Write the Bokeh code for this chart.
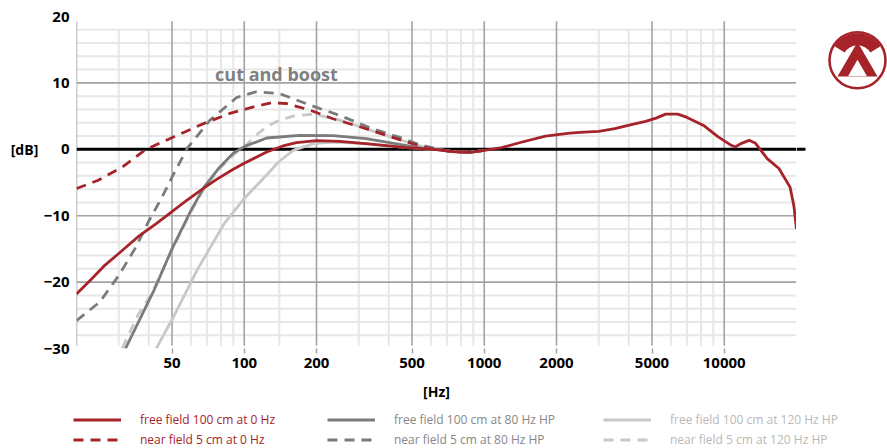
import math
from bokeh.plotting import figure
from bokeh.layouts import row, column
from bokeh.models import Range1d, FixedTicker, Label, Legend, LegendItem
from bokeh.embed import file_html
from bokeh.resources import INLINE

# ---------------- data ----------------
x_ticks = [50, 100, 200, 500, 1000, 2000, 5000, 10000]
x_minor = [30, 40, 60, 70, 80, 90, 140, 300, 400, 600, 700, 800, 900,
           3000, 4000, 6000, 7000, 8000, 9000]
y_ticks = [-30, -20, -10, 0, 10, 20]
y_major = [-20, -10, 10]
y_minor = [-28, -26, -24, -22, -18, -16, -14, -12, -8, -6, -4, -2,
           2, 4, 6, 8, 12, 14, 16, 18]

# common response above ~500 Hz (free field 100 cm, 0 Hz)
common_f = [500, 570, 650, 740, 870, 1000, 1180, 1440, 1800, 2270, 2600, 3000,
            3500, 4100, 4700, 5200, 5700, 6400, 7000, 8200, 9400, 10700, 11100,
            11800, 12700, 13500, 15100, 16900, 18800, 19500, 20000]
common_db = [0.2, 0.05, -0.1, -0.35, -0.45, -0.15, 0.25, 1.1, 2.0, 2.45, 2.6, 2.7,
             3.1, 3.7, 4.2, 4.7, 5.3, 5.3, 4.8, 3.6, 1.9, 0.6, 0.35,
             0.9, 1.35, 0.9, -1.4, -2.9, -5.7, -8.5, -12.0]

# free field 100 cm at 0 Hz (low part)
ff0_f = [20, 23, 26, 30, 36, 43, 50, 58, 68, 77, 90, 100, 124, 145, 165, 200, 250,
         320, 400, 470]
ff0_db = [-21.8, -19.6, -17.6, -15.7, -13.2, -11.2, -9.4, -7.6, -5.8, -4.5, -3.0,
          -2.1, -0.4, 0.5, 1.0, 1.3, 1.2, 0.85, 0.5, 0.25]

# near field 5 cm at 0 Hz
nf0_f = [20, 24.5, 31, 39, 51, 68, 87, 112, 130, 150, 188, 234, 303, 391, 491, 570, 650]
nf0_db = [-5.9, -4.7, -2.7, 0.0, 1.9, 3.9, 5.4, 6.5, 7.0, 6.9, 5.9, 4.6, 3.4, 2.1,
          0.95, 0.25, -0.1]

# free field 100 cm at 80 Hz HP
ff80_f = [32, 42, 50, 60, 68, 79, 90, 100, 124, 170, 234, 322, 444, 570]
ff80_db = [-30.0, -21.3, -15.0, -9.2, -5.7, -2.7, -0.6, 0.4, 1.7, 2.1, 2.05, 1.6,
           0.75, 0.05]

# near field 5 cm at 80 Hz HP
nf80_f = [20, 25, 30, 35, 40, 45, 50, 58, 72, 93, 112, 140, 190, 250, 341, 444, 536, 650]
nf80_db = [-25.8, -23.0, -19.0, -15.0, -10.8, -7.5, -4.2, 0.2, 4.4, 7.8, 8.65, 8.4,
           6.6, 5.1, 3.1, 1.8, 0.7, 0.0]

# free field 100 cm at 120 Hz HP
ff120_f = [43, 50.6, 63.6, 82.5, 100, 120, 140, 160, 194, 234, 320]
ff120_db = [-30.0, -25.3, -18.2, -11.2, -7.4, -4.4, -1.8, -0.15, 0.85, 1.1, 0.86]

# near field 5 cm at 120 Hz HP
nf120_f = [31, 36, 41, 50, 60, 68, 79, 88, 93, 100, 110, 124, 140, 160, 194, 226, 260]
nf120_db = [-30.0, -25.0, -21.8, -15.2, -9.4, -5.9, -2.9, -1.2, -0.4, 0.3, 1.9, 3.4,
            4.4, 5.0, 5.3, 4.8, 4.2]

labels = ["free field 100 cm at 0 Hz", "near field 5 cm at 0 Hz",
          "free field 100 cm at 80 Hz HP", "near field 5 cm at 80 Hz HP",
          "free field 100 cm at 120 Hz HP", "near field 5 cm at 120 Hz HP"]

F_MIN, F_MAX = 20, 20000
DB_MIN, DB_MAX = -30, 20


def join(lf, ld, tf, td, fmax=None):
    xs, ys = list(lf), list(ld)
    for f, d in zip(tf, td):
        if f > lf[-1] and (fmax is None or f <= fmax):
            xs.append(f)
            ys.append(d)
    return xs, ys


ff0_full = join(ff0_f, ff0_db, common_f, common_db)
nf0_full = join(nf0_f, nf0_db, common_f, common_db, 1000)
ff80_full = join(ff80_f, ff80_db, common_f, common_db, 1000)
nf80_full = join(nf80_f, nf80_db, common_f, common_db, 1000)
ff120_full = join(ff120_f, ff120_db, ff0_full[0], ff0_full[1], 1000)
nf120_full = join(nf120_f, nf120_db, nf0_full[0], nf0_full[1], 1000)

# ---------------- style ----------------
RED = "#a6232a"
DARK = "#7b7b7b"
LIGHT = "#c8c8c8"
RED_T = "#a6232a"
DARK_T = "#878787"
LIGHT_T = "#b9b9b9"
GRID_MAJ = "#a3a3a3"
GRID_MIN = "#e7e7e7"
FONT = "Open Sans"
DASH = "10 7"
LW = 2.8

TOP_B, BOT_B = 16, 56
ROW_H = 404
LEFT_W, MAIN_W, RIGHT_W = 40, 756, 91
LEG_H = 44

y_rng = Range1d(DB_MIN, DB_MAX)


def bare(fig):
    fig.outline_line_color = None
    fig.grid.visible = False
    fig.background_fill_color = "white"
    fig.border_fill_color = "white"
    return fig


# ---------------- main plot ----------------
p = figure(width=MAIN_W, height=ROW_H, x_axis_type="log",
           x_range=Range1d(F_MIN, F_MAX), y_range=y_rng,
           output_backend="svg", toolbar_location=None,
           min_border_left=32, min_border_right=0,
           min_border_top=TOP_B, min_border_bottom=BOT_B)
bare(p)

# grid lines
p.segment(x0=F_MIN, x1=F_MAX, y0=y_minor, y1=y_minor, line_color=GRID_MIN, line_width=2)
p.segment(x0=x_minor, x1=x_minor, y0=DB_MIN + 0.4, y1=18, line_color=GRID_MIN, line_width=2)
p.segment(x0=F_MIN, x1=F_MAX, y0=y_major, y1=y_major, line_color=GRID_MAJ, line_width=1.6)
p.segment(x0=[F_MIN] + x_ticks, x1=[F_MIN] + x_ticks, y0=DB_MIN + 0.4, y1=19.3,
          line_color=GRID_MAJ, line_width=1.6)
p.segment(x0=F_MIN, x1=F_MAX, y0=0, y1=0, line_color="black", line_width=3)

# curves (drawn back to front)
series = [
    ("ff120", ff120_full, LIGHT, None),
    ("nf120", nf120_full, LIGHT, DASH),
    ("nf80", nf80_full, DARK, DASH),
    ("nf0", nf0_full, RED, DASH),
    ("ff80", ff80_full, DARK, None),
    ("ff0", ff0_full, RED, None),
]


def line_kw(col, dash):
    kw = dict(line_color=col, line_width=LW, line_join="round")
    if dash:
        kw["line_dash"] = dash
    return kw


for name, (xs, ys), col, dash in series:
    p.line(xs, ys, **line_kw(col, dash))

# axes
xa = p.xaxis[0]
xa.ticker = FixedTicker(ticks=x_ticks)
xa.major_label_overrides = {t: str(t) for t in x_ticks}
xa.axis_line_color = None
xa.minor_tick_line_color = None
xa.major_tick_in = 0
xa.major_tick_out = 5
xa.major_tick_line_color = GRID_MAJ
xa.major_tick_line_width = 1.5
xa.major_label_standoff = 4
xa.major_label_text_font = FONT
xa.major_label_text_font_style = "bold"
xa.major_label_text_font_size = "15px"
xa.major_label_text_color = "black"
xa.axis_label = "[Hz]"
xa.axis_label_standoff = 11
xa.axis_label_text_font = FONT
xa.axis_label_text_font_style = "bold"
xa.axis_label_text_font_size = "14px"
xa.axis_label_text_color = "black"

ya = p.yaxis[0]
ya.ticker = FixedTicker(ticks=y_ticks)
ya.axis_line_color = None
ya.minor_tick_line_color = None
ya.major_tick_line_color = None
ya.major_tick_in = 0
ya.major_tick_out = 0
ya.major_label_standoff = 7
ya.major_label_text_font = FONT
ya.major_label_text_font_style = "bold"
ya.major_label_text_font_size = "15px"
ya.major_label_text_color = "black"

p.add_layout(Label(x=75.6, y=11.3, text="cut and boost", text_align="left",
                   text_baseline="middle", text_font=FONT, text_font_style="bold",
                   text_font_size="18px", text_color="#808080"))

# ---------------- left strip: [dB] ----------------
lf = bare(figure(width=LEFT_W, height=ROW_H, x_range=Range1d(0, LEFT_W), y_range=y_rng,
                 output_backend="svg", toolbar_location=None,
                 x_axis_location=None, y_axis_location=None,
                 min_border_left=0, min_border_right=0,
                 min_border_top=TOP_B, min_border_bottom=BOT_B))
lf.add_layout(Label(x=24, y=0, text="[dB]", text_align="center",
                    text_baseline="middle", text_font=FONT, text_font_style="bold",
                    text_font_size="14px", text_color="black"))

# ---------------- right strip: logo ----------------
rf = bare(figure(width=RIGHT_W, height=ROW_H, x_range=Range1d(0, RIGHT_W), y_range=y_rng,
                 output_backend="svg", toolbar_location=None,
                 x_axis_location=None, y_axis_location=None,
                 min_border_left=0, min_border_right=0,
                 min_border_top=TOP_B, min_border_bottom=BOT_B))
rf.segment(x0=0, x1=9, y0=0, y1=0, line_color="black", line_width=3)
LOGO_X, LOGO_DB = 61, 13.4
rf.scatter([LOGO_X], [LOGO_DB], marker="circle", size=56, fill_color="white",
           line_color=RED, line_width=2.6)
rf.annular_wedge(x=[LOGO_X], y=[LOGO_DB], inner_radius=15, outer_radius=27,
                 inner_radius_units="screen", outer_radius_units="screen",
                 start_angle=0.55, end_angle=2.59, fill_color=RED, line_color=None)
rf.scatter([LOGO_X], [LOGO_DB - 0.7], marker="triangle", size=40, fill_color=RED,
           line_color=None)
rf.scatter([LOGO_X], [LOGO_DB - 1.58], marker="triangle", size=19, fill_color="white",
           line_color=None)

# ---------------- legend strip ----------------
lg = bare(figure(width=MAIN_W + LEFT_W + RIGHT_W, height=LEG_H,
                 x_range=Range1d(0, 1), y_range=Range1d(0, 1),
                 output_backend="svg", toolbar_location=None,
                 x_axis_location=None, y_axis_location=None,
                 min_border_left=0, min_border_right=0,
                 min_border_top=0, min_border_bottom=0))
# legend renderers: same series, lying outside this strip's visible range
leg_r = {}
for name, (xs, ys), col, dash in series:
    leg_r[name] = lg.line(xs, ys, **line_kw(col, dash))

cols = [(["ff0", "nf0"], labels[0:2], RED_T, 73),
        (["ff80", "nf80"], labels[2:4], DARK_T, 327),
        (["ff120", "nf120"], labels[4:6], LIGHT_T, 603)]
for names, labs, col, xoff in cols:
    leg = Legend(items=[LegendItem(label=l, renderers=[leg_r[n]]) for l, n in zip(labs, names)],
                 location=(xoff, 0), orientation="vertical",
                 glyph_width=48, glyph_height=17, label_height=17, label_standoff=19,
                 spacing=3, padding=0, margin=0,
                 label_text_font=FONT, label_text_font_size="12px",
                 label_text_color=col, border_line_color=None,
                 background_fill_alpha=0)
    lg.add_layout(leg)

layout = column(row(lf, p, rf), lg)
open("out.html", "w").write(file_html(layout, INLINE))
